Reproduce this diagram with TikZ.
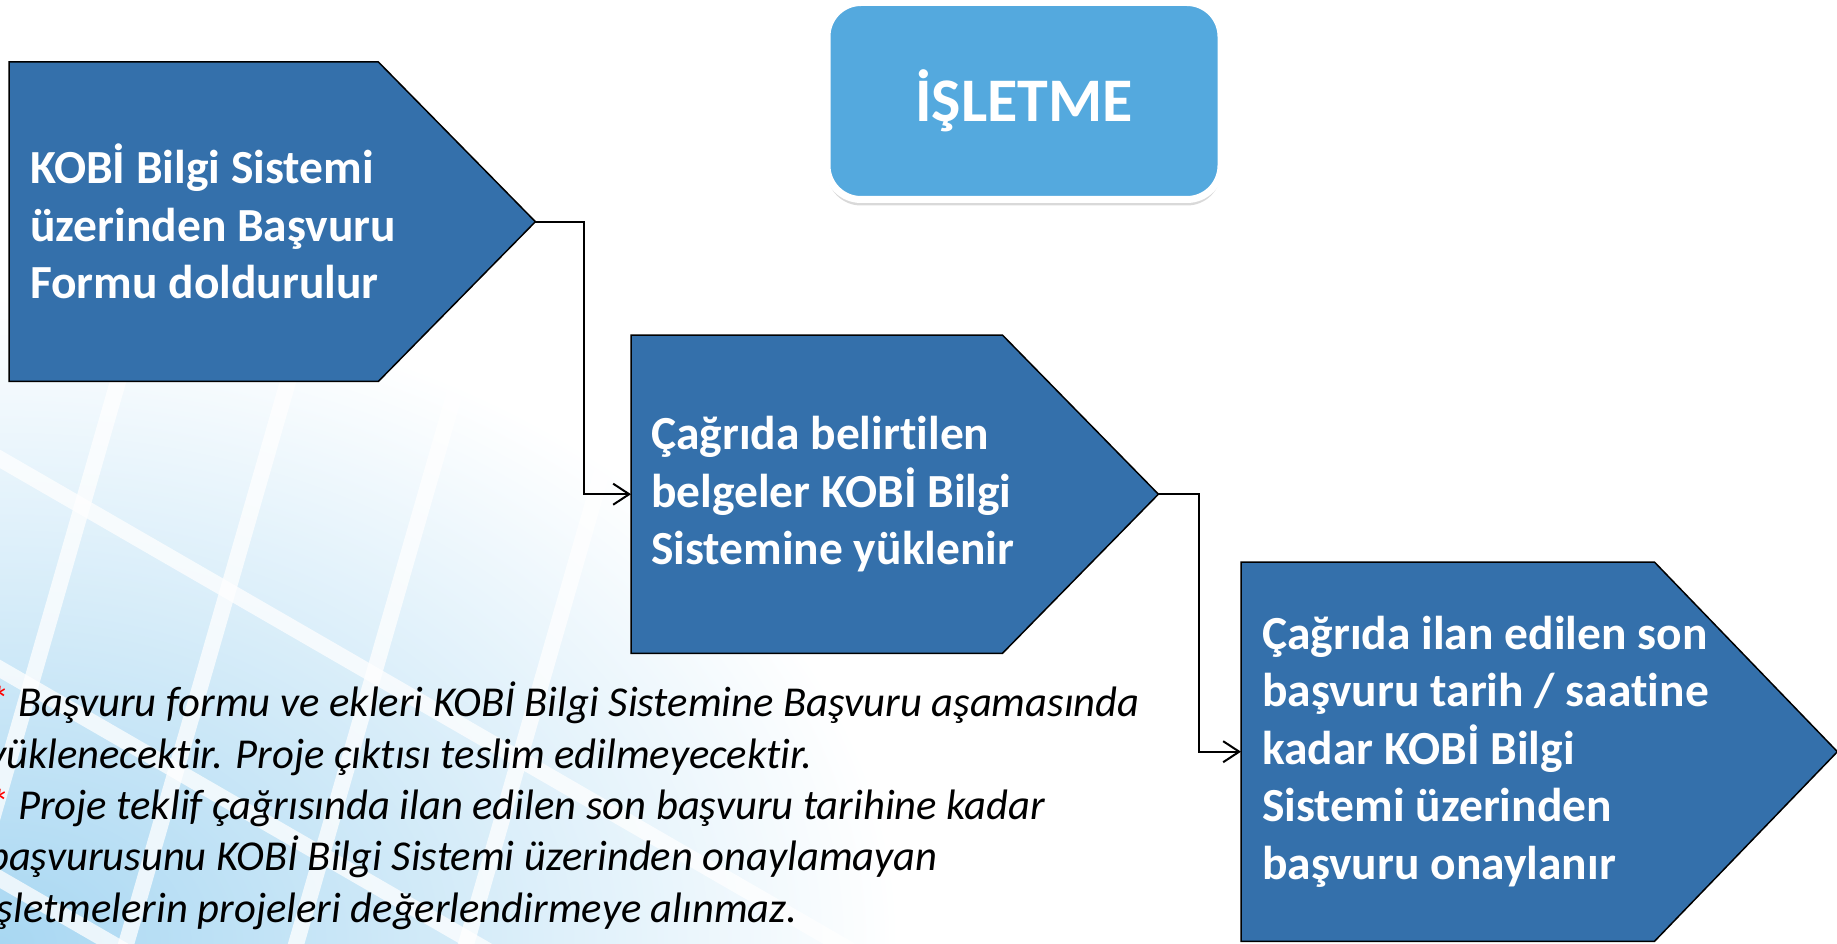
\documentclass[tikz,border=0pt]{standalone}
\usepackage{fontspec}
\setmainfont[Ligatures=NoCommon]{Carlito}
\usetikzlibrary{calc}
\usetikzlibrary{arrows.meta}
\usetikzlibrary{positioning}
\usetikzlibrary{shadows}

\definecolor{stepblue}{RGB}{52,112,171}
\definecolor{headblue}{RGB}{84,169,222}
\definecolor{bgblue}{RGB}{168,215,242}

\tikzset{
 stepbox/.style={inner sep=0pt, anchor=north west},
 steptext/.style={text=white, font=\fontsize{47.5}{57.4}\selectfont\bfseries, align=left, inner sep=0pt},
 stepedge/.style={fill=stepblue, draw=black, line width=1.5pt, line join=miter},
 link/.style={black, line width=2pt, ->, >={Straight Barb[length=16pt,width=21pt]}},
 stripe/.style={white, line width=16pt, opacity=.75},
}

\begin{document}
\begin{tikzpicture}[x=1pt, y=-1pt]
\useasboundingbox (0,0) rectangle (1837,944);
% background
\begin{scope}
\clip (0,0) rectangle (1837,944);
\shade[inner color=bgblue, outer color=white] (0,944) ellipse (900 and 650);
\foreach \xa in {-60,110,280,450}
 \draw[stripe] (\xa,1000) -- ++(190,-660);
\foreach \ya in {430,640,850}
 \draw[stripe] (-50,\ya) -- ++(900,520);
\end{scope}

% title
\node[fill=headblue, draw=white, line width=7pt, rounded corners=34pt,
 minimum width=394pt, minimum height=197pt, text=white,
 font=\fontsize{62}{70}\selectfont\bfseries,
 drop shadow={opacity=.3, shadow xshift=0pt, shadow yshift=-6pt}] (head) at (1024,101) {İŞLETME};

% steps
\node[stepbox, minimum width=369pt, minimum height=319pt] (s1) at (9,62) {};
\node[stepbox, minimum width=371pt, minimum height=318pt] (s2) at (631,335) {};
\node[stepbox, minimum width=413pt, minimum height=379pt] (s3) at (1241,562) {};
\coordinate (t1) at ($(s1.east)+(157,0)$);
\coordinate (t2) at ($(s2.east)+(156,0)$);
\coordinate (t3) at ($(s3.east)+(183,0)$);
\foreach \s in {1,2,3}
 \draw[stepedge] (s\s.north west) -- (s\s.north east) -- (t\s) -- (s\s.south east) -- (s\s.south west) -- cycle;
\node[steptext, right=21pt of s1.west] (l1) {KOBİ Bilgi Sistemi\\üzerinden Başvuru\\Formu doldurulur};
\node[steptext, right=20pt of s2.west] (l2) {Çağrıda belirtilen\\belgeler KOBİ Bilgi\\Sistemine yüklenir};
\node[steptext, right=21pt of s3.west] (l3) {Çağrıda ilan edilen son\\başvuru tarih / saatine\\kadar KOBİ Bilgi\\Sistemi üzerinden\\başvuru onaylanır};

% links
\draw[link] (t1) -- ++(49,0) |- (s2.west);
\draw[link] (t2) -- ++(41,0) |- (s3.west);

% notes
\node[anchor=base west, align=left, inner sep=0pt, font=\fontsize{42.6}{51.3}\selectfont\itshape] (note) at (-13,922)
 {\textcolor{red}{*} Başvuru formu ve ekleri KOBİ Bilgi Sistemine Başvuru aşamasında\\
 yüklenecektir. Proje çıktısı teslim edilmeyecektir.\\
 \textcolor{red}{*} Proje teklif çağrısında ilan edilen son başvuru tarihine kadar\\
 başvurusunu KOBİ Bilgi Sistemi üzerinden onaylamayan\\
 işletmelerin projeleri değerlendirmeye alınmaz.};
\end{tikzpicture}
\end{document}
